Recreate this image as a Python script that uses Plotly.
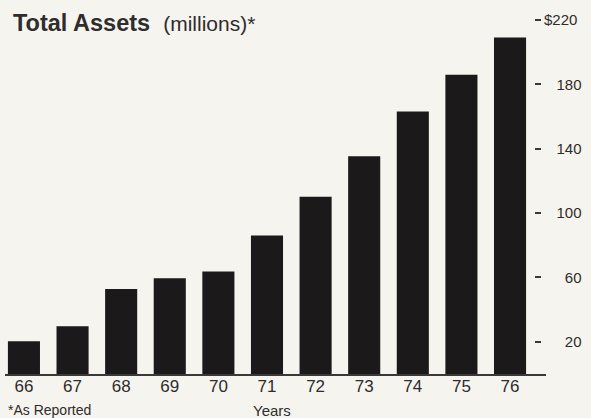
import plotly.graph_objects as go

# Total assets by fiscal year, in millions of dollars
years = ["66", "67", "68", "69", "70", "71", "72", "73", "74", "75", "76"]
assets = [20.4, 29.7, 52.9, 59.5, 63.7, 86.0, 110.2, 135.3, 163.2, 186.0, 209.2]

# Right-hand scale
tick_vals = [20, 60, 100, 140, 180, 220]
tick_text = ["\u2007\u2007\u00a020", "\u2007\u2007\u00a060", "\u2007\u00a0100",
             "\u2007\u00a0140", "\u2007\u00a0180", "$220"]

W, H = 591, 418
M_T, M_B = 20, 44
BG = "#f6f4ee"
INK = "#1b191a"
TXT = "#2e2c2c"


def px_x(p):
    return p / W


def px_y(p):
    return (H - M_B - p) / (H - M_T - M_B)


fig = go.Figure(
    go.Bar(
        x=years,
        y=assets,
        marker=dict(color=INK, line=dict(width=0)),
        hoverinfo="x+y",
    )
)

fig.update_layout(
    width=W,
    height=H,
    margin=dict(l=0, r=0, t=M_T, b=M_B, pad=0),
    paper_bgcolor=BG,
    plot_bgcolor=BG,
    bargap=0.34,
    showlegend=False,
    font=dict(family="Liberation Sans, Arial, sans-serif", color=TXT),
    xaxis=dict(
        type="category",
        domain=[px_x(4.5), px_x(546)],
        range=[-0.4, 10.74],
        showgrid=False,
        zeroline=False,
        showline=True,
        linecolor="#3a3838",
        linewidth=1.5,
        ticks="",
        ticklabelstandoff=-4,
        tickfont=dict(size=17, color=TXT),
        fixedrange=True,
    ),
    yaxis=dict(
        side="right",
        anchor="free",
        position=px_x(534),
        range=[0, 220],
        tickvals=tick_vals,
        ticktext=tick_text,
        showgrid=False,
        zeroline=False,
        showline=False,
        ticks="outside",
        ticklen=6,
        tickwidth=1.5,
        tickcolor="#3a3838",
        tickfont=dict(size=15, color=TXT),
        fixedrange=True,
    ),
    annotations=[
        dict(
            text="<b>Total Assets</b>\u00a0 <span style='font-size:21px'>(millions)*</span>",
            xref="paper", yref="paper",
            x=px_x(11), y=px_y(38),
            xanchor="left", yanchor="bottom",
            showarrow=False,
            font=dict(size=23.5, color=TXT),
        ),
        dict(
            text="*As Reported",
            xref="paper", yref="paper",
            x=px_x(6), y=px_y(420),
            xanchor="left", yanchor="bottom",
            showarrow=False,
            font=dict(size=14, color=TXT),
        ),
        dict(
            text="Years",
            xref="paper", yref="paper",
            x=px_x(272), y=px_y(421),
            xanchor="center", yanchor="bottom",
            showarrow=False,
            font=dict(size=15, color=TXT),
        ),
    ],
)

fig.write_html("out.html")
